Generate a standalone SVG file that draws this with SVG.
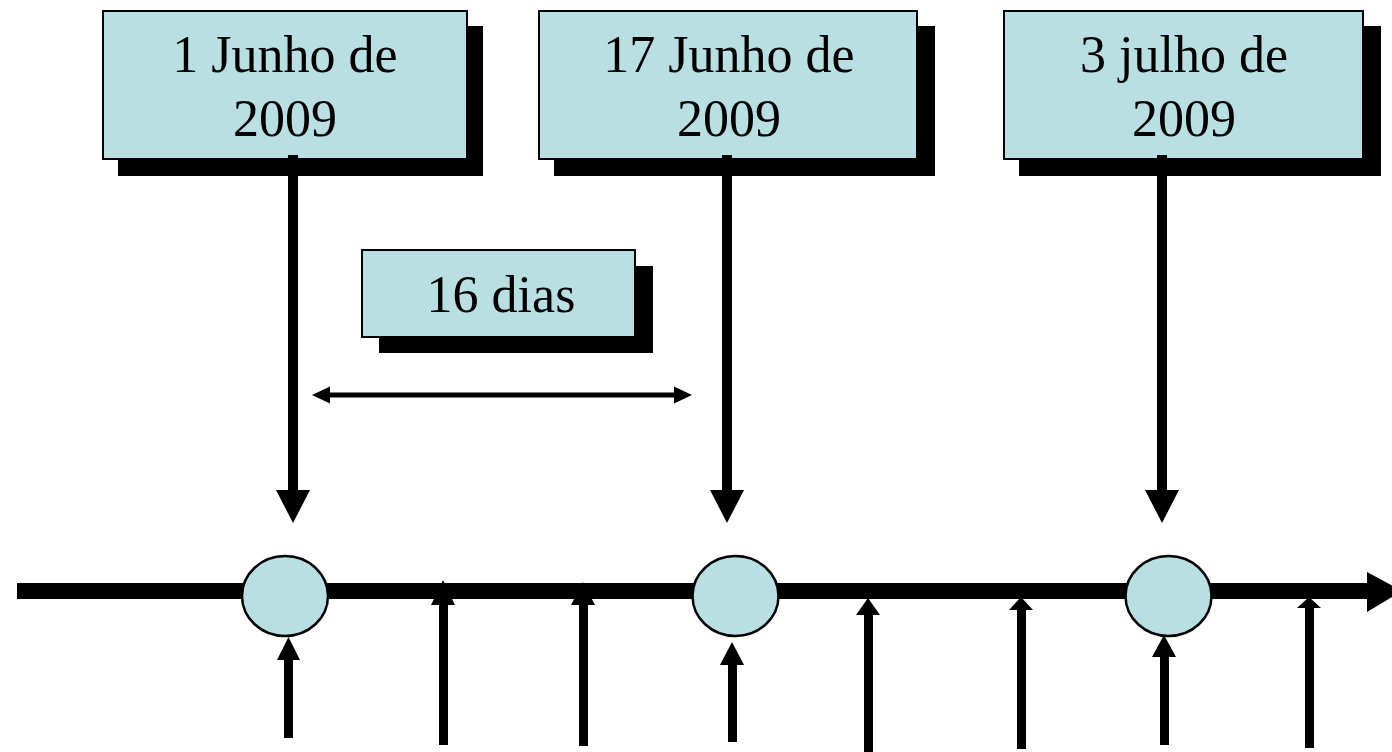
<svg xmlns="http://www.w3.org/2000/svg" width="1392" height="752" viewBox="0 0 1392 752">
<style>
.box{fill:#b9dfe3;stroke:#000;stroke-width:2}
.shadow{fill:#000}
.lbl{font-family:"Liberation Serif","Times New Roman",serif;font-size:52px;fill:#000;text-anchor:middle}
.node{fill:#b9dfe3;stroke:#000;stroke-width:2.5}
.blk{fill:#000}
</style>
<rect width="1392" height="752" fill="#fff"/>
<g id="connectors">
  <!-- timeline -->
  <rect class="blk" x="17" y="583" width="1355" height="16"/>
  <polygon class="blk" points="1367,572 1402,591 1367,612"/>
  <!-- down arrows from date boxes -->
  <rect class="blk" x="288" y="155" width="10" height="338"/>
  <polygon class="blk" points="276,490 310,490 293,523"/>
  <rect class="blk" x="722" y="155" width="10" height="338"/>
  <polygon class="blk" points="710,490 744,490 727,523"/>
  <rect class="blk" x="1157" y="155" width="10" height="338"/>
  <polygon class="blk" points="1145,490 1179,490 1162,523"/>
  <!-- double arrow -->
  <line x1="326" y1="395" x2="678" y2="395" stroke="#000" stroke-width="5"/>
  <polygon class="blk" points="312,395 330,386.5 330,403.5"/>
  <polygon class="blk" points="692,395 674,386.5 674,403.5"/>
  <!-- upward arrows -->
  <rect class="blk" x="284" y="658" width="9" height="80"/>
  <polygon class="blk" points="277,660 300,660 288.5,637"/>
  <rect class="blk" x="439" y="600" width="9" height="145"/>
  <polygon class="blk" points="431,605 455,605 443,580"/>
  <rect class="blk" x="579" y="600" width="9" height="146"/>
  <polygon class="blk" points="571,605 595,605 583,582"/>
  <rect class="blk" x="728" y="662" width="9" height="80"/>
  <polygon class="blk" points="720,665 744,665 732,642"/>
  <rect class="blk" x="864" y="610" width="9" height="145"/>
  <polygon class="blk" points="856,615 880,615 868,598"/>
  <rect class="blk" x="1017" y="606" width="9" height="143"/>
  <polygon class="blk" points="1009,610 1033,610 1021,597"/>
  <rect class="blk" x="1160" y="654" width="9" height="91"/>
  <polygon class="blk" points="1152,657 1176,657 1164,635"/>
  <rect class="blk" x="1305" y="604" width="9" height="144"/>
  <polygon class="blk" points="1297,608 1321,608 1309,597"/>
</g>
<g id="date1">
  <rect class="shadow" x="118" y="26" width="365" height="150"/>
  <rect class="box" x="103" y="11" width="364" height="148"/>
  <rect class="blk" x="288" y="155" width="10" height="21"/>
  <text class="lbl" x="285" y="72">1 Junho de</text>
  <text class="lbl" x="285" y="136">2009</text>
</g>
<g id="date2">
  <rect class="shadow" x="554" y="26" width="381" height="150"/>
  <rect class="box" x="539" y="11" width="378" height="148"/>
  <rect class="blk" x="722" y="155" width="10" height="21"/>
  <text class="lbl" x="729" y="72">17 Junho de</text>
  <text class="lbl" x="729" y="136">2009</text>
</g>
<g id="date3">
  <rect class="shadow" x="1019" y="26" width="362" height="150"/>
  <rect class="box" x="1004" y="11" width="359" height="148"/>
  <rect class="blk" x="1157" y="155" width="10" height="21"/>
  <text class="lbl" x="1184" y="72">3 julho de</text>
  <text class="lbl" x="1184" y="136">2009</text>
</g>
<g id="interval">
  <rect class="shadow" x="379" y="266" width="274" height="87"/>
  <rect class="box" x="362" y="250" width="273" height="87"/>
  <text class="lbl" x="501" y="312">16 dias</text>
</g>
<g id="node1"><ellipse class="node" cx="285" cy="596" rx="43" ry="40"/></g>
<g id="node2"><ellipse class="node" cx="735.5" cy="596" rx="43" ry="40"/></g>
<g id="node3"><ellipse class="node" cx="1168.5" cy="596" rx="43" ry="40"/></g>
</svg>
